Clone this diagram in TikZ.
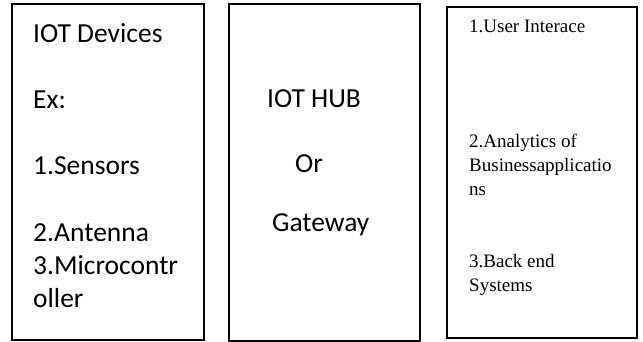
\documentclass[tikz,border=0pt]{standalone}
\usepackage{fontspec}
\newfontfamily\calfont{Carlito}
\newfontfamily\tnrfont{Liberation Serif}
\begin{document}
\begin{tikzpicture}[x=1pt,y=-1pt,
  panel/.style={draw=black, line width=1.3pt, rectangle, inner sep=0pt},
  bigtxt/.style={anchor=base west, inner sep=0pt, font=\calfont\fontsize{27.5}{33}\selectfont},
  smalltxt/.style={anchor=base west, inner sep=0pt, font=\tnrfont\fontsize{19}{23}\selectfont}]
\useasboundingbox (0,0) rectangle (643,342);
% panels
\node[panel, minimum width=192pt, minimum height=336pt] (p1) at (108,172) {};
\node[panel, minimum width=191pt, minimum height=337pt] (p2) at (324.5,172.5) {};
\node[panel, minimum width=190pt, minimum height=331pt] (p3) at (542,172.5) {};
% panel 1
\node[bigtxt] (t1a) at (33,43) {IOT Devices};
\node[bigtxt] (t1b) at (33,109) {Ex:};
\node[bigtxt] (t1c) at (33,175) {1.Sensors};
\node[bigtxt] (t1d) at (33,241) {2.Antenna};
\node[bigtxt] (t1e) at (33,274) {3.Microcontr};
\node[bigtxt] (t1f) at (33,307) {oller};
% panel 2
\node[bigtxt] (t2a) at (267,108) {IOT HUB};
\node[bigtxt] (t2b) at (295,173) {Or};
\node[bigtxt] (t2c) at (272,231) {Gateway};
% panel 3
\node[smalltxt] (t3a) at (469,33) {1.User Interace};
\node[smalltxt] (t3b) at (469,148) {2.Analytics of};
\node[smalltxt] (t3c) at (469,172) {Businessapplicatio};
\node[smalltxt] (t3d) at (469,196) {ns};
\node[smalltxt] (t3e) at (469,267) {3.Back end};
\node[smalltxt] (t3f) at (469,291) {Systems};
\end{tikzpicture}
\end{document}
